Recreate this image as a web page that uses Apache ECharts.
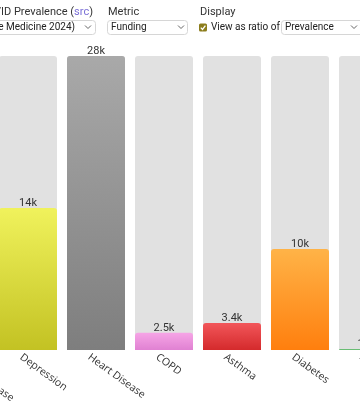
<!DOCTYPE html>
<html><head><meta charset="utf-8">
<script src="https://cdn.jsdelivr.net/npm/echarts@6/dist/echarts.min.js"></script>
<style>html,body{margin:0;padding:0;background:#fff;overflow:hidden;width:360px;height:410px;position:relative}#c{width:486px;height:410px;position:absolute;left:-83px;top:0}</style>
</head><body><div id="c"></div>
<script>
const categories = ['Kidney Disease', 'Depression', 'Heart Disease', 'COPD', 'Asthma', 'Diabetes', 'Anxiety'];
const values = [4000, 14000, 28000, 2500, 3400, 10200, 1000];
const topColors = ['#9fd0f0', '#f0f25c', '#a9a9a9', '#f6a5e6', '#f2565a', '#ffb347', '#9ad6a0'];
const bottomColors = ['#5aa8de', '#c3c223', '#7e7e7e', '#e081d2', '#d42a2c', '#ff7f0e', '#3fa84f'];

const OX = 83; // page x offset inside the wider chart container
const chart = echarts.init(document.getElementById('c'), null, {renderer: 'canvas'});
const UI = 'Roboto, "Liberation Sans", sans-serif';
function chevron(x) {
  return {type: 'polyline', shape: {points: [[OX + x - 3, 25.5], [OX + x, 28.5], [OX + x + 3, 25.5]]},
    style: {stroke: '#666', lineWidth: 1, fill: null}};
}
function selectBox(x, w) {
  return {type: 'rect', shape: {x: OX + x + 0.5, y: 20.5, width: w, height: 14, r: 3},
    style: {fill: '#fff', stroke: '#d6d6d6', lineWidth: 1}};
}
function txt(x, y, text, size, extra) {
  return {type: 'text', x: OX + x, y: y, style: Object.assign({text: text, fontSize: size, fontFamily: UI,
    fill: '#222', verticalAlign: 'middle'}, extra || {})};
}
chart.setOption({
  animation: false,
  grid: [
    {left: 9, right: 1, top: 56, bottom: 60, containLabel: false},
    {left: 2, right: 8, top: 56, bottom: 60, containLabel: false}
  ],
  xAxis: [{
    type: 'category', data: categories, gridIndex: 0,
    axisLine: {show: false}, axisTick: {show: false}, axisLabel: {show: false}
  }, {
    type: 'category', data: categories, gridIndex: 1,
    axisLine: {show: false}, axisTick: {show: false},
    axisLabel: {rotate: -36, interval: 0, margin: 6, fontSize: 10.5, color: '#333',
      fontFamily: '"Open Sans", "Noto Sans", sans-serif'}
  }],
  yAxis: [
    {type: 'value', min: 900, max: 28000, show: false, gridIndex: 0},
    {type: 'value', min: 0, max: 1, show: false, gridIndex: 1}
  ],
  series: [{
    type: 'bar', barWidth: 58, xAxisIndex: 0, yAxisIndex: 0,
    showBackground: true,
    backgroundStyle: {color: '#e1e1e1', borderRadius: [3, 3, 0, 0]},
    data: values.map((v, i) => ({
      value: v,
      itemStyle: {
        borderRadius: [3, 3, 0, 0],
        color: new echarts.graphic.LinearGradient(0, 0, 0, 1, [
          {offset: 0, color: topColors[i]}, {offset: 1, color: bottomColors[i]}])
      }
    })),
    label: {show: true, position: 'top', distance: -1, fontSize: 11, color: '#333',
      fontFamily: UI,
      formatter: p => (p.value / 1000).toPrecision(2) + 'k'}
  }],
  graphic: [
    {type: 'text', x: OX + 93, y: 12, style: {text: '{a|Long COVID Prevalence (}{b|src}{a|)}', align: 'right',
      verticalAlign: 'middle', rich: {a: {fontSize: 11, fontFamily: UI, fill: '#333'},
        b: {fontSize: 11, fontFamily: UI, fill: '#7a6fd6'}}}},
    txt(108, 12, 'Metric', 11, {fill: '#333'}),
    txt(200, 12, 'Display', 11, {fill: '#333'}),
    selectBox(-20, 115),
    txt(75, 27.5, 'Al-Aly (Nature Medicine 2024)', 10, {align: 'right'}),
    chevron(88),
    selectBox(107, 80),
    txt(111, 27.5, 'Funding', 10),
    chevron(181),
    {type: 'rect', shape: {x: OX + 199, y: 23.5, width: 8, height: 8, r: 1.5}, style: {fill: '#8c7d1c'}},
    {type: 'polyline', shape: {points: [[OX + 200.8, 27.6], [OX + 202.5, 29.4], [OX + 205.4, 25.6]]}, style: {stroke: '#fff', lineWidth: 1.3, fill: null}},
    txt(211, 27.5, 'View as ratio of', 10),
    selectBox(281, 82),
    txt(285, 27.5, 'Prevalence', 10),
    chevron(354)
  ]
});
</script></body></html>
